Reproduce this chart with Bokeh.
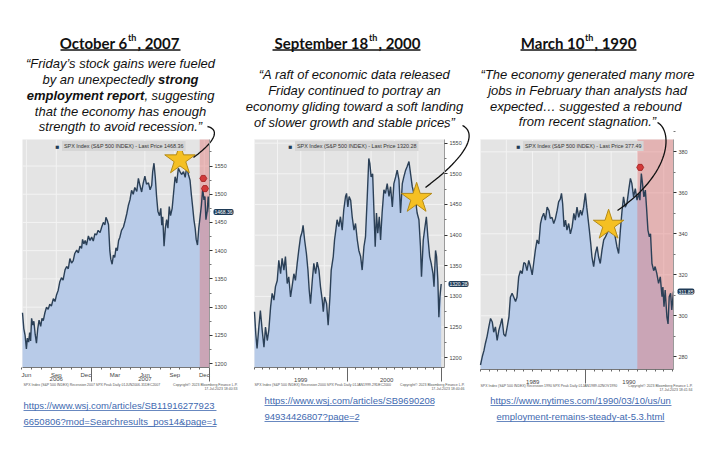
import pandas as pd
from bokeh.plotting import figure
from bokeh.layouts import row
from bokeh.models import Label, FixedTicker, LinearAxis, Range1d
from bokeh.embed import file_html
from bokeh.resources import INLINE

# ---------------- data ----------------
# Panel 1: SPX daily, x = days after 1 Jun 2006
p1_start = "2006-06-01"
p1_days = [2, 6, 10, 14, 17, 21, 24, 27, 30, 34, 37, 41, 45, 49, 53, 58, 62, 66,
           71, 76, 81, 86, 91, 97, 102, 107, 112, 117, 122, 127, 133, 138, 143, 148, 153, 158, 163, 169, 174, 179, 184,
           187, 191, 195, 199, 205, 210, 215, 220, 225, 230, 235, 241, 246, 251, 256,
           259, 263, 267, 271, 274, 278, 282, 286, 290, 294, 298, 302,
           307, 313, 318, 323, 328, 333, 338, 343, 348, 354, 359, 364, 369, 374, 379, 384, 390, 395, 400,
           403, 407, 411, 415, 419, 424, 428, 431, 434, 438, 442, 446, 450, 454, 458, 463, 467,
           472, 477, 482, 487, 492, 498, 503, 508, 513, 518,
           522, 526, 530, 534, 537, 541, 545, 549, 553, 557, 561, 564, 567, 571, 574, 578]
p1_close = [1290, 1262, 1250, 1226, 1245, 1238, 1255, 1240, 1280, 1268, 1275, 1252, 1236, 1262, 1277, 1266, 1280, 1276,
            1290, 1300, 1296, 1305, 1302, 1315, 1310, 1322, 1330, 1345, 1352, 1348, 1366, 1372, 1368, 1386, 1378, 1382, 1395, 1401, 1396, 1408, 1404,
            1420, 1412, 1418, 1410, 1426, 1418, 1424, 1417, 1430, 1428, 1436, 1432, 1442, 1450, 1446,
            1459, 1454, 1446, 1400, 1385, 1376, 1392, 1388, 1405, 1400, 1418, 1424,
            1436, 1442, 1453, 1465, 1480, 1490, 1507, 1500, 1512, 1505, 1528, 1515, 1504, 1520, 1532, 1518, 1520, 1508, 1516,
            1540, 1555, 1530, 1496, 1470, 1462, 1475, 1445, 1460, 1408, 1440, 1455, 1440, 1478, 1462, 1475, 1500,
            1531, 1520, 1546, 1540, 1535, 1540, 1530, 1549, 1535, 1525,
            1500, 1478, 1455, 1439, 1420, 1410, 1440, 1460, 1480, 1510, 1490, 1496, 1455, 1470, 1496, 1468.36]
p1_recession_start = "2007-12-01"
p1_star_date, p1_star_level = "2007-10-01", 1561
p1_flag_dates = ["2007-12-12", "2007-12-17"]
p1_flag_levels = [1528, 1510]
p1_yticks = [1200, 1250, 1300, 1350, 1400, 1450, 1500, 1550]
p1_month_labels = ["Jun", "Sep", "Dec", "Mar", "Jun", "Sep", "Dec"]
p1_month_dates = ["2006-06-15", "2006-09-15", "2006-12-15", "2007-03-15", "2007-06-15", "2007-09-15", "2007-12-15"]
p1_year_labels = ["2006", "2007"]
p1_year_dates = ["2006-09-15", "2007-06-15"]
p1_year_breaks = ["2007-01-01", "2007-12-31"]

# Panel 2: SPX daily, x = days after 1 Jan 1999
p2_start = "1999-01-01"
p2_days = [0, 5, 10, 17, 23, 30, 37, 43, 50, 56, 63, 69, 76, 82, 89, 95, 102, 108, 115, 121,
           128, 134, 141, 147, 154, 160, 167, 173, 180, 186, 190, 196, 203, 209, 214, 219, 226, 232, 239, 245,
           252, 258, 265, 269, 274, 282, 288, 295, 300, 308, 313, 318, 323, 330, 336, 343, 349, 356, 360, 365,
           370, 376, 382, 389, 395, 402, 408, 415, 421, 428, 434, 441, 447, 451, 456, 462, 467, 472, 477, 482,
           488, 493, 499, 506, 512, 519, 526, 532, 539, 545, 552, 558, 565, 571, 578, 584, 591, 597, 604, 610,
           617, 623, 630, 636, 643, 649, 653, 660, 665, 672, 678, 685, 691, 698, 702, 708, 712, 717, 721, 725, 730]
p2_close = [1275, 1239, 1215, 1250, 1277, 1245, 1217, 1250, 1228, 1245, 1283, 1305, 1294, 1316, 1326, 1359, 1337, 1362, 1343, 1365,
            1321, 1332, 1299, 1316, 1337, 1326, 1354, 1375, 1397, 1405, 1416, 1392, 1370, 1343, 1310, 1288, 1326, 1354, 1337, 1356,
            1343, 1316, 1294, 1275, 1299, 1288, 1253, 1299, 1343, 1365, 1392, 1408, 1425, 1414, 1430, 1408, 1441, 1463, 1468, 1446,
            1463, 1457, 1430, 1408, 1419, 1392, 1375, 1365, 1343, 1381, 1397, 1463, 1525, 1517, 1495, 1500, 1441, 1381, 1436, 1403,
            1430, 1392, 1436, 1474, 1468, 1484, 1463, 1479, 1446, 1484, 1495, 1506, 1490, 1436, 1484, 1495, 1506, 1512, 1520, 1501,
            1479, 1468, 1457, 1436, 1425, 1381, 1332, 1392, 1408, 1430, 1397, 1365, 1354, 1337, 1316, 1375, 1365, 1326, 1266, 1299,
            1320.28]
p2_star_date, p2_star_level = "2000-09-26", 1460
p2_yticks = [1200, 1250, 1300, 1350, 1400, 1450, 1500, 1550]
p2_year_labels = ["1999", "2000"]
p2_year_dates = ["1999-07-01", "2000-06-01"]
p2_year_breaks = ["2000-01-01", "2000-12-31"]

# Panel 3: SPX daily, x = days after 1 Jan 1989
p3_start = "1989-01-01"
p3_days = [0, 6, 12, 17, 23, 29, 35, 41, 46, 52, 58, 64, 70, 75, 81, 87, 93, 99, 104, 110,
           116, 122, 127, 133, 139, 145, 151, 156, 162, 168, 174, 180, 185, 191, 197, 203, 209, 214, 220, 226,
           232, 238, 243, 249, 255, 261, 267, 272, 278, 282, 286, 291,
           296, 301, 307, 313, 319, 325, 330, 336, 342, 348, 353, 359, 365, 370, 374, 379, 384, 388,
           394, 400, 406, 411, 417, 423, 429, 435, 440, 446, 452, 458, 464, 469, 475, 481, 487, 493, 498, 504,
           510, 516, 522, 527, 533, 539, 545, 551, 555, 560, 564, 569, 574, 578, 583, 588, 592, 597,
           603, 608, 614, 620, 626, 632, 635, 639, 643, 649, 653, 657, 662, 666, 672]
p3_close = [276, 280, 283, 286.5, 290, 294.6, 298.7, 297, 292, 294.6, 288, 293, 296, 298.7, 291, 290, 294.6, 299.5, 309, 311,
            309, 307, 309, 319, 322, 320.6, 326, 325.5, 322, 327, 324, 320, 325.5, 332, 337, 335, 345, 348, 350, 346.7,
            353, 351.5, 347.5, 348, 345, 347.5, 351.5, 355.6, 357, 359.7, 354.8, 343.4,
            346.7, 341.8, 345, 340, 343.4, 350, 346.7, 353, 348, 351.5, 349, 353, 359.7, 353, 348, 341.8, 335, 328.8,
            324, 330.4, 333.7, 328.8, 325.5, 332, 337, 338.5, 340, 341.8, 341.8, 340, 343.4, 338.5, 333.7, 330.4, 341.8, 351.5, 358, 353,
            354.8, 361.3, 367, 364.6, 358, 362, 356.4, 359.7, 356.4, 369.4, 364.6, 358, 361.3, 353, 341.8, 338.5, 340, 325.5,
            322, 324, 320.6, 315.8, 319, 309.3, 314, 304.4, 312.5, 299.5, 296, 309.3, 311, 302.8, 311.85]
p3_recession_start = "1990-07-01"
p3_star_date, p3_star_level = "1990-03-23", 344.2
p3_flag_dates = ["1990-07-11"]
p3_flag_levels = [372.4]
p3_yticks = [280, 300, 320, 340, 360, 380]
p3_year_labels = ["1989", "1990"]
p3_year_dates = ["1989-07-02", "1990-06-02"]
p3_year_breaks = ["1990-01-01"]

# ---------------- styling ----------------
BG = "#e4e4e4"
GRID = "#f3f3f3"
AREA = "#b8cbe8"
LINE = "#2b4057"
PINK = "#e36f6f"
NAVY = "#1f3b57"
STAR = "#f5c023"
LINK = "#4169b0"
QFONT = "Liberation Sans"
TFONT = "Lato"
H = 444


def day_of(d, start):
    return (pd.Timestamp(d) - pd.Timestamp(start)).days


class Panel:
    """One figure whose frame is the whole panel; the chart uses extra ranges 't' (days) and 'v' (price)."""

    def __init__(self, left, W, start, days, close, d_end, v_lo, v_hi, cx0, cx1, cy0, cy1):
        self.left, self.W, self.start = left, W, start
        self.days, self.close = days, close
        self.d0, self.d1, self.v_lo, self.v_hi = days[0], d_end, v_lo, v_hi
        lx0, lx1 = cx0 - left, cx1 - left
        self.lx1, self.cy1 = lx1, cy1
        s = (d_end - days[0]) / (lx1 - lx0)
        sv = (v_hi - v_lo) / (cy1 - cy0)
        p = figure(width=W, height=H, title=None, x_range=Range1d(0, W), y_range=Range1d(H, 0),
                   min_border=0, x_axis_location=None, y_axis_location=None,
                   toolbar_location=None, output_backend="svg", outline_line_color=None,
                   background_fill_color="white", border_fill_color="white")
        p.grid.visible = False
        p.extra_x_ranges = {"t": Range1d(days[0] - lx0 * s, d_end + (W - lx1) * s)}
        p.extra_y_ranges = {"v": Range1d(v_lo - (H - cy1) * sv, v_hi + cy0 * sv)}
        self.p = p
        kw = dict(x_range_name="t", y_range_name="v")
        self.kw = kw
        p.quad(left=[self.d0], right=[self.d1], bottom=[v_lo], top=[v_hi], fill_color=BG, line_color=None, **kw)

    # chart pieces -------------------------------------------------------
    def grid(self, xticks, yticks):
        p, kw = self.p, self.kw
        p.segment(x0=xticks, x1=xticks, y0=[self.v_lo] * len(xticks), y1=[self.v_hi] * len(xticks),
                  line_color=GRID, line_width=1, **kw)
        p.segment(x0=[self.d0] * len(yticks), x1=[self.d1] * len(yticks), y0=yticks, y1=yticks,
                  line_color=GRID, line_width=1, **kw)

    def series(self, recession=None):
        p, kw = self.p, self.kw
        p.varea(x=self.days, y1=self.v_lo, y2=self.close, fill_color=AREA, **kw)
        if recession:
            p.quad(left=[day_of(recession, self.start)], right=[self.d1], bottom=[self.v_lo], top=[self.v_hi],
                   fill_color=PINK, fill_alpha=0.42, line_color=None, **kw)
        p.line(self.days, self.close, line_color=LINE, line_width=1.4, **kw)

    def star(self, date, level):
        self.p.scatter([day_of(date, self.start)], [level], marker="star", size=32,
                       fill_color=STAR, line_color="#b48a17", line_width=1, **self.kw)

    def flags(self, dates, levels):
        self.p.scatter([day_of(d, self.start) for d in dates], levels, marker="hex", size=7,
                       fill_color="#d23a3a", line_color="#9e1c1c", line_width=0.8, **self.kw)

    def yaxis(self, ticks, minor):
        ax = LinearAxis(y_range_name="v", fixed_location=self.lx1, bounds=(self.v_lo, self.v_hi),
                        ticker=FixedTicker(ticks=ticks, minor_ticks=minor),
                        major_label_text_font_size="5.5px", major_label_text_color="#444444",
                        major_label_text_font=QFONT, major_tick_out=3, major_tick_in=0,
                        minor_tick_out=2, minor_tick_in=0, major_tick_line_color="#333333",
                        minor_tick_line_color="#777777", axis_line_color="#9a9a9a",
                        major_label_standoff=2)
        self.p.add_layout(ax, "right")

    def xaxis(self, dates, labels, size, standoff, month_end=None, tick_len=0, color="#444444"):
        td = [day_of(d, self.start) for d in dates]
        minor = []
        if month_end:
            minor = [day_of(d, self.start) for d in
                     pd.date_range(self.start, month_end, freq="MS").strftime("%Y-%m-%d")]
        ax = LinearAxis(x_range_name="t", fixed_location=self.cy1, bounds=(self.d0, self.d1),
                        ticker=FixedTicker(ticks=td, minor_ticks=minor),
                        major_label_overrides=dict(zip(td, labels)),
                        axis_line_color="#777777" if month_end else None,
                        major_tick_line_color="#666666" if tick_len else None,
                        major_tick_out=tick_len, major_tick_in=0,
                        minor_tick_line_color="#666666" if minor else None,
                        minor_tick_out=2, minor_tick_in=0,
                        major_label_text_font_size=f"{size}px", major_label_text_color=color,
                        major_label_text_font=QFONT, major_label_standoff=standoff)
        self.p.add_layout(ax, "below")
        return td

    def last_tag(self, value):
        self.p.add_layout(Label(x=self.lx1 + 4, y=value, y_range_name="v",
                                text=f"{value:.2f}", text_font=QFONT, text_font_size="5px",
                                text_color="white", background_fill_color=NAVY,
                                text_align="left", text_baseline="middle", padding=1,
                                border_radius=2))

    # page texts (page coordinates) ---------------------------------------
    def text(self, px, py, text, size, font=QFONT, style="normal", color="#111111",
             align="left", baseline="middle", **kw):
        self.p.add_layout(Label(x=px - self.left, y=py, text=text, text_font=font,
                                text_font_size=f"{size}px", text_font_style=style, text_color=color,
                                text_align=align, text_baseline=baseline, **kw))

    def poly(self, pts, color="#111111", width=1.2):
        self.p.line([x - self.left for x, y in pts], [y for x, y in pts], line_color=color, line_width=width)

    def curve(self, p0, c1, c2, p3, width=1.3):
        pts = []
        n = 30
        for i in range(n + 1):
            t = i / n
            a, b, c, d = (1 - t) ** 3, 3 * t * (1 - t) ** 2, 3 * t * t * (1 - t), t ** 3
            pts.append((a * p0[0] + b * c1[0] + c * c2[0] + d * p3[0],
                        a * p0[1] + b * c1[1] + c * c2[1] + d * p3[1]))
        self.poly(pts, width=width)

    def legend_box(self, px, py, text):
        self.text(px + 6.5, py, text, 5.4, color="#333333", background_fill_color="#d6d6d6", padding=2)
        self.text(px, py, "\u25a0", 6.5, color=NAVY)

    def title(self, split, part1, part2, x_left, x_right, sup="th", y=42):
        self.text(split, y, part1, 15, font=TFONT, style="bold", align="right")
        self.text(split + 0.5, y - 5, sup, 9, font=TFONT, style="bold")
        self.text(split + 10, y, part2, 15, font=TFONT, style="bold")
        self.poly([(x_left, y + 7.5), (x_right, y + 7.5)], width=1.3)


def quarter_days(start, end):
    return [day_of(d, start) for d in pd.date_range(start, end, freq="QS").strftime("%Y-%m-%d")]


# ---------------- panel 1 ----------------
a = Panel(0, 240, p1_start, p1_days, p1_close, p1_days[-1], 1193, 1597, 22, 209, 139, 367)
a.grid([day_of(d, p1_start) for d in p1_month_dates], p1_yticks)
a.series(p1_recession_start)
a.star(p1_star_date, p1_star_level)
a.flags(p1_flag_dates, p1_flag_levels)
a.yaxis(p1_yticks, [v + 25 for v in p1_yticks])
a.xaxis(p1_month_dates, p1_month_labels, 6, 2, month_end="2007-12-31")
a.xaxis(p1_year_dates, p1_year_labels, 6, 9)
a.xaxis(p1_year_breaks, [" "] * len(p1_year_breaks), 1, 0, tick_len=14)
a.last_tag(p1_close[-1])
a.legend_box(55, 145.5, f"SPX Index (S&P 500 INDEX) - Last Price {p1_close[-1]:.2f}")
a.title(127, "October 6", ", 2007", 60, 180)
a.text(120, 63, "\u201cFriday\u2019s stock gains were fueled", 13, style="italic", align="center")
a.text(154, 79, "by an unexpectedly", 13, style="italic", align="right")
a.text(157.6, 79, "strong", 13, style="bold italic")
a.text(143.9, 95, "employment report", 13, style="bold italic", align="right")
a.text(143.9, 95, ", suggesting", 13, style="italic")
a.text(120, 111, "that the economy has enough", 13, style="italic", align="center")
a.text(120, 126, "strength to avoid recession.\u201d", 13, style="italic", align="center")
a.curve((207, 126), (219, 129), (216, 140), (193, 157))
a.text(23, 384.5, "SPX Index (S&P 500 INDEX) Recession 2007 SPX Peak  Daily 01JUN2006-31DEC2007", 3.5, color="#555555")
a.text(237, 384.5, "Copyright\u00a9 2023 Bloomberg Finance L.P.", 3.5, color="#555555", align="right")
a.text(237, 388.5, "17-Jul-2023 18:40:33", 3.5, color="#555555", align="right")
a.text(23, 405, "https://www.wsj.com/articles/SB11916277923", 9.5, color=LINK)
a.text(23, 421, "6650806?mod=Searchresults_pos14&page=1", 9.5, color=LINK)
a.poly([(23, 410), (216, 410)], color=LINK, width=0.8)
a.poly([(23, 426), (216, 426)], color=LINK, width=0.8)

# ---------------- panel 2 ----------------
b = Panel(240, 235, p2_start, p2_days, p2_close, p2_days[-1] + 13, 1184, 1556, 254, 444, 139, 367)
b.grid(quarter_days(p2_start, "2000-12-31"), p2_yticks)
b.series()
b.star(p2_star_date, p2_star_level)
b.yaxis(p2_yticks, [v + 25 for v in p2_yticks])
b.xaxis(p2_year_dates, p2_year_labels, 6, 8, month_end="2000-12-31")
b.xaxis(p2_year_breaks, [" "] * len(p2_year_breaks), 1, 0, tick_len=14)
b.last_tag(p2_close[-1])
b.legend_box(288, 145.5, f"SPX Index (S&P 500 INDEX) - Last Price {p2_close[-1]:.2f}")
b.title(368, "September 18", ", 2000", 272, 420)
b.text(354, 74, "\u201cA raft of economic data released", 13, style="italic", align="center")
b.text(354, 90, "Friday continued to portray an", 13, style="italic", align="center")
b.text(354, 106, "economy gliding toward a soft landing", 13, style="italic", align="center")
b.text(354, 122, "of slower growth and stable prices\u201d", 13, style="italic", align="center")
b.curve((462, 125), (474, 131), (474, 150), (425, 187))
b.text(254, 384.5, "SPX Index (S&P 500 INDEX) Recession 2000 SPX Peak  Daily 01JAN1999-29DEC2000", 3.5, color="#555555")
b.text(464, 384.5, "Copyright\u00a9 2023 Bloomberg Finance L.P.", 3.5, color="#555555", align="right")
b.text(464, 388.5, "17-Jul-2023 18:40:46", 3.5, color="#555555", align="right")
b.text(264, 400, "https://www.wsj.com/articles/SB9690208", 9.5, color=LINK)
b.text(264, 416, "94934426807?page=2", 9.5, color=LINK)
b.poly([(264, 405), (434, 405)], color=LINK, width=0.8)
b.poly([(264, 421), (358, 421)], color=LINK, width=0.8)

# ---------------- panel 3 ----------------
c = Panel(475, 235, p3_start, p3_days, p3_close, p3_days[-1], 273.8, 386, 480, 673, 139, 369)
c.grid(quarter_days(p3_start, "1990-11-01"), p3_yticks)
c.series(p3_recession_start)
c.star(p3_star_date, p3_star_level)
c.flags(p3_flag_dates, p3_flag_levels)
c.yaxis(p3_yticks, [v + 10 for v in p3_yticks])
c.xaxis(p3_year_dates, p3_year_labels, 6, 8, month_end="1990-11-01")
c.xaxis(p3_year_breaks, [" "] * len(p3_year_breaks), 1, 0, tick_len=14)
c.last_tag(p3_close[-1])
c.legend_box(516, 145.5, "SPX Index (S&P 500 INDEX) - Last Price 377.49")
c.title(584, "March 10", ", 1990", 520, 636)
c.text(587, 74, "\u201cThe economy generated many more", 13, style="italic", align="center")
c.text(587, 90, "jobs in February than analysts had", 13, style="italic", align="center")
c.text(587, 106, "expected\u2026  suggested a rebound", 13, style="italic", align="center")
c.text(587, 121, "from recent stagnation.\u201d", 13, style="italic", align="center")
c.curve((657, 122), (672, 130), (672, 172), (617, 210))
c.text(480, 385.5, "SPX Index (S&P 500 INDEX) Recession 1990 SPX Peak  Daily 01JAN1989-02NOV1990", 3.5, color="#555555")
c.text(692, 385.5, "Copyright\u00a9 2023 Bloomberg Finance L.P.", 3.5, color="#555555", align="right")
c.text(692, 389.5, "17-Jul-2023 18:41:34", 3.5, color="#555555", align="right")
c.text(580, 400, "https://www.nytimes.com/1990/03/10/us/un", 9.5, color=LINK, align="center")
c.text(580, 416, "employment-remains-steady-at-5.3.html", 9.5, color=LINK, align="center")
c.poly([(490, 405), (671, 405)], color=LINK, width=0.8)
c.poly([(496, 421), (664, 421)], color=LINK, width=0.8)

layout = row(a.p, b.p, c.p, spacing=0)
open("out.html", "w").write(file_html(layout, INLINE))
